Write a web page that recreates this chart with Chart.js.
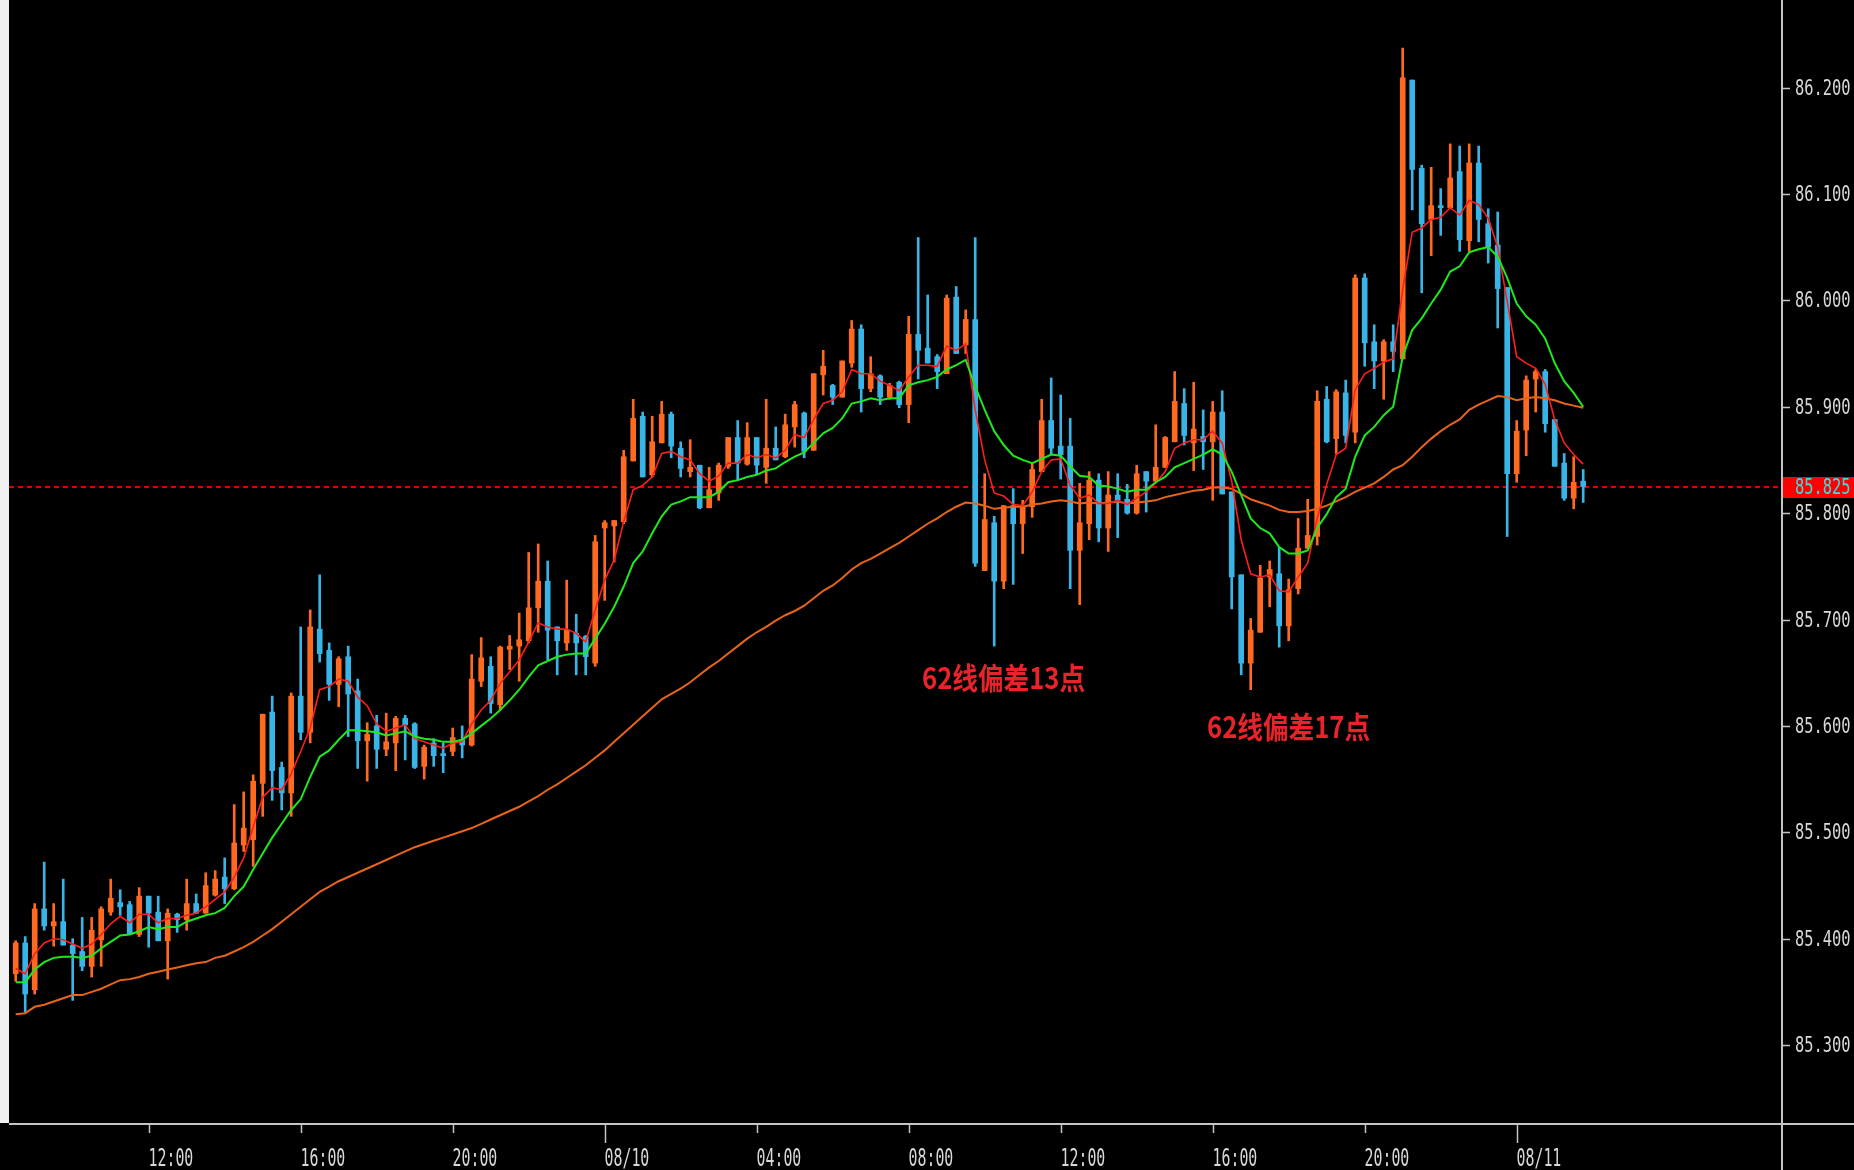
<!DOCTYPE html>
<html><head><meta charset="utf-8">
<script src="https://cdn.jsdelivr.net/npm/chart.js@4.4.1/dist/chart.umd.min.js"></script>
<style>html,body{margin:0;padding:0;background:#000;overflow:hidden}#wrap{width:1854px;height:1170px}</style>
</head><body><div id="wrap"><canvas id="c" width="1854" height="1170"></canvas></div>
<script>
// 15-minute candles, 08:30 (08/09) to 01:45 (08/11)
const opens = [
85.367,85.396,85.352,85.428,85.412,85.416,85.394,85.388,85.374,85.399,
85.425,85.434,85.432,85.404,85.440,85.425,85.398,85.423,85.418,85.433,
85.424,85.441,85.458,85.447,85.488,85.493,85.546,85.613,85.561,85.537,
85.628,85.594,85.691,85.671,85.639,85.665,85.633,85.586,85.600,85.578,
85.584,85.607,85.602,85.562,85.584,85.574,85.576,85.587,85.582,85.642,
85.656,85.620,85.672,85.675,85.680,85.711,85.736,85.693,85.678,85.687,
85.684,85.659,85.786,85.788,85.792,85.849,85.891,85.836,85.866,85.893,
85.861,85.839,85.845,85.805,85.819,85.844,85.871,85.846,85.871,85.843,
85.861,85.853,85.881,85.894,85.859,85.930,85.920,85.909,85.941,85.973,
85.917,85.929,85.909,85.923,85.902,85.968,85.955,85.947,85.931,86.003,
85.958,85.982,85.746,85.791,85.736,85.807,85.790,85.806,85.839,85.887,
85.863,85.863,85.765,85.790,85.831,85.786,85.817,85.813,85.800,85.839,
85.830,85.843,85.867,85.903,85.866,85.872,85.867,85.895,85.820,85.742,
85.659,85.688,85.740,85.743,85.694,85.729,85.767,85.778,85.907,85.870,
85.913,85.876,86.021,85.961,85.943,85.961,85.945,86.207,86.124,86.076,
86.089,86.087,86.121,86.056,86.129,86.072,86.052,86.012,85.837,85.878,
85.926,85.933,85.888,85.847,85.814,85.830];
const highs = [
85.398,85.402,85.433,85.472,85.433,85.456,85.400,85.420,85.420,85.430,
85.456,85.446,85.435,85.448,85.440,85.440,85.428,85.424,85.456,85.442,
85.462,85.464,85.476,85.526,85.538,85.554,85.611,85.628,85.566,85.631,
85.693,85.709,85.742,85.678,85.665,85.675,85.644,85.603,85.610,85.612,
85.609,85.610,85.603,85.582,85.588,85.584,85.598,85.600,85.667,85.683,
85.665,85.675,85.685,85.706,85.763,85.771,85.755,85.693,85.737,85.705,
85.685,85.779,85.793,85.793,85.859,85.907,85.895,85.891,85.905,85.895,
85.867,85.869,85.845,85.843,85.847,85.871,85.887,85.885,85.871,85.907,
85.881,85.893,85.905,85.895,85.931,85.953,85.921,85.943,85.981,85.977,
85.947,85.930,85.922,85.924,85.985,86.059,86.005,85.949,86.005,86.013,
85.991,86.059,85.837,85.797,85.807,85.823,85.812,85.847,85.907,85.927,
85.911,85.889,85.828,85.839,85.837,85.839,85.837,85.827,85.845,85.839,
85.883,85.872,85.933,85.917,85.923,85.897,85.905,85.915,85.820,85.742,
85.701,85.751,85.755,85.768,85.738,85.795,85.813,85.915,85.919,85.916,
85.925,86.024,86.025,85.977,85.963,85.977,86.237,86.207,86.127,86.125,
86.105,86.147,86.145,86.147,86.145,86.086,86.083,86.012,85.887,85.929,
85.935,85.935,85.888,85.856,85.853,85.841];
const lows = [
85.360,85.331,85.348,85.408,85.393,85.394,85.342,85.370,85.364,85.374,
85.422,85.422,85.404,85.402,85.392,85.398,85.362,85.406,85.408,85.424,
85.424,85.440,85.433,85.446,85.482,85.468,85.515,85.530,85.521,85.515,
85.587,85.584,85.660,85.624,85.618,85.590,85.560,85.548,85.560,85.572,
85.558,85.568,85.560,85.550,85.562,85.556,85.572,85.570,85.581,85.637,
85.612,85.615,85.653,85.642,85.678,85.688,85.662,85.648,85.671,85.648,
85.648,85.656,85.718,85.754,85.790,85.849,85.834,85.834,85.866,85.852,
85.834,85.834,85.804,85.805,85.812,85.842,85.831,85.845,85.837,85.828,
85.850,85.852,85.862,85.852,85.859,85.911,85.902,85.909,85.937,85.895,
85.914,85.902,85.907,85.899,85.885,85.926,85.941,85.917,85.931,85.950,
85.950,85.750,85.746,85.675,85.729,85.733,85.762,85.796,85.839,85.855,
85.832,85.729,85.714,85.775,85.773,85.764,85.777,85.799,85.799,85.801,
85.830,85.843,85.867,85.864,85.840,85.841,85.812,85.818,85.710,85.648,
85.634,85.688,85.712,85.674,85.680,85.724,85.767,85.770,85.866,85.856,
85.866,85.866,85.938,85.917,85.907,85.933,85.945,86.085,86.007,86.042,
86.061,86.086,86.046,86.046,86.055,86.035,85.974,85.778,85.829,85.854,
85.895,85.876,85.844,85.812,85.804,85.810];
const closes = [
85.396,85.348,85.428,85.412,85.416,85.394,85.386,85.374,85.408,85.428,
85.438,85.430,85.404,85.440,85.424,85.398,85.424,85.418,85.433,85.424,
85.450,85.456,85.447,85.490,85.504,85.548,85.611,85.558,85.537,85.628,
85.594,85.693,85.668,85.639,85.663,85.630,85.586,85.592,85.578,85.585,
85.607,85.601,85.561,85.580,85.572,85.572,85.589,85.582,85.644,85.664,
85.621,85.674,85.675,85.681,85.711,85.736,85.690,85.680,85.690,85.678,
85.665,85.773,85.791,85.793,85.853,85.889,85.834,85.867,85.893,85.863,
85.842,85.843,85.805,85.822,85.845,85.871,85.847,85.871,85.845,85.861,
85.850,85.883,85.902,85.858,85.931,85.938,85.909,85.943,85.973,85.917,
85.931,85.909,85.920,85.902,85.968,85.953,85.941,85.933,86.002,85.950,
85.982,85.753,85.794,85.736,85.807,85.790,85.806,85.841,85.887,85.861,
85.855,85.765,85.791,85.831,85.786,85.817,85.812,85.800,85.837,85.830,
85.843,85.871,85.905,85.873,85.879,85.867,85.895,85.818,85.740,85.659,
85.690,85.739,85.747,85.694,85.728,85.767,85.779,85.905,85.867,85.914,
85.873,86.021,85.960,85.943,85.961,85.952,86.209,86.123,86.072,86.089,
86.087,86.115,86.057,86.129,86.076,86.050,86.011,85.837,85.877,85.925,
85.933,85.884,85.844,85.814,85.829,85.825];
// moving averages
const maRed = [
85.372,85.367,85.386,85.396,85.400,85.399,85.395,85.391,85.395,85.404,
85.414,85.421,85.415,85.423,85.423,85.415,85.419,85.419,85.422,85.424,
85.430,85.437,85.444,85.458,85.476,85.505,85.533,85.542,85.540,85.555,
85.576,85.598,85.634,85.637,85.644,85.642,85.627,85.619,85.602,85.595,
85.598,85.601,85.588,85.585,85.582,85.579,85.584,85.585,85.602,85.615,
85.624,85.640,85.651,85.662,85.679,85.697,85.693,85.691,85.691,85.687,
85.679,85.709,85.737,85.756,85.792,85.822,85.826,85.834,85.856,85.858,
85.853,85.850,85.837,85.830,85.835,85.847,85.847,85.855,85.852,85.855,
85.852,85.859,85.874,85.871,85.888,85.903,85.906,85.914,85.935,85.931,
85.931,85.924,85.920,85.915,85.928,85.939,85.939,85.938,85.957,85.953,
85.959,85.897,85.850,85.819,85.816,85.808,85.807,85.820,85.839,85.850,
85.851,85.826,85.814,85.817,85.809,85.809,85.812,85.808,85.814,85.820,
85.828,85.839,85.861,85.866,85.869,85.869,85.877,85.866,85.830,85.775,
85.743,85.740,85.742,85.727,85.726,85.740,85.753,85.795,85.827,85.855,
85.861,85.916,85.931,85.936,85.942,85.945,86.010,86.064,86.068,86.076,
86.078,86.087,86.080,86.094,86.090,86.077,86.050,85.999,85.947,85.941,
85.936,85.921,85.888,85.866,85.855,85.846];
const maGreen = [
85.359,85.359,85.371,85.378,85.382,85.383,85.383,85.382,85.384,85.391,
85.397,85.403,85.404,85.407,85.411,85.409,85.411,85.411,85.416,85.419,
85.422,85.424,85.429,85.440,85.449,85.465,85.480,85.495,85.508,85.521,
85.531,85.552,85.571,85.577,85.587,85.596,85.596,85.595,85.594,85.591,
85.593,85.595,85.590,85.588,85.587,85.585,85.585,85.587,85.593,85.600,
85.607,85.615,85.624,85.634,85.646,85.657,85.661,85.665,85.667,85.668,
85.668,85.682,85.696,85.712,85.731,85.753,85.764,85.781,85.797,85.808,
85.811,85.815,85.815,85.815,85.820,85.829,85.831,85.834,85.836,85.840,
85.842,85.848,85.853,85.857,85.866,85.875,85.880,85.889,85.903,85.905,
85.908,85.906,85.908,85.908,85.920,85.923,85.925,85.928,85.935,85.939,
85.944,85.919,85.897,85.877,85.864,85.854,85.850,85.847,85.851,85.855,
85.854,85.844,85.835,85.834,85.826,85.825,85.823,85.820,85.822,85.822,
85.829,85.834,85.843,85.847,85.851,85.855,85.860,85.855,85.839,85.817,
85.795,85.786,85.781,85.768,85.762,85.762,85.765,85.786,85.799,85.815,
85.823,85.853,85.873,85.881,85.892,85.900,85.947,85.972,85.983,85.997,
86.010,86.027,86.032,86.045,86.048,86.050,86.041,86.021,85.997,85.985,
85.977,85.964,85.941,85.924,85.913,85.900];
const ma62 = [
85.329,85.330,85.336,85.338,85.341,85.344,85.347,85.347,85.350,85.353,
85.357,85.361,85.362,85.364,85.367,85.369,85.371,85.373,85.375,85.377,
85.378,85.382,85.384,85.388,85.392,85.397,85.403,85.409,85.416,85.423,
85.430,85.437,85.444,85.449,85.454,85.458,85.462,85.466,85.470,85.474,
85.478,85.482,85.486,85.489,85.492,85.495,85.498,85.501,85.504,85.508,
85.512,85.516,85.520,85.524,85.529,85.534,85.540,85.545,85.551,85.557,
85.563,85.570,85.577,85.585,85.593,85.601,85.609,85.617,85.625,85.630,
85.635,85.641,85.648,85.655,85.661,85.668,85.675,85.682,85.688,85.693,
85.699,85.704,85.708,85.713,85.720,85.727,85.732,85.739,85.747,85.753,
85.757,85.762,85.767,85.772,85.778,85.784,85.790,85.795,85.801,85.806,
85.810,85.809,85.807,85.804,85.805,85.806,85.806,85.808,85.809,85.811,
85.812,85.811,85.809,85.810,85.809,85.810,85.811,85.809,85.810,85.811,
85.812,85.815,85.817,85.819,85.821,85.822,85.824,85.824,85.823,85.818,
85.813,85.810,85.807,85.803,85.801,85.801,85.802,85.804,85.807,85.811,
85.815,85.820,85.824,85.828,85.834,85.841,85.845,85.853,85.862,85.870,
85.877,85.883,85.888,85.897,85.902,85.906,85.910,85.909,85.906,85.908,
85.909,85.908,85.906,85.903,85.901,85.899];

const priceTicks = [85.3, 85.4, 85.5, 85.6, 85.7, 85.8, 85.9, 86.0, 86.1, 86.2];
const timeTickIdx = [14, 30, 46, 62, 78, 94, 110, 126, 142, 158];
const timeTickLabels = ['12:00','16:00','20:00','08/10','04:00','08:00','12:00','16:00','20:00','08/11'];
const timeTickIsDate = [false,false,false,true,false,false,false,false,false,true];
const currentPrice = 85.825;
const noteTexts = ['62线偏差13点', '62线偏差17点'];
const noteIdx = [95.4, 125.4];
const notePrice = [85.645, 85.599];

const UP = '#ff6a20', DOWN = '#38b4e6';
const idx = opens.map((_, i) => i);
const candleColors = idx.map(i => closes[i] >= opens[i] ? UP : DOWN);

function cText(ctx, txt, x, y, sx, font, color, baseline) {
  ctx.save();
  ctx.font = font; ctx.fillStyle = color; ctx.textBaseline = baseline; ctx.textAlign = 'left';
  ctx.translate(x, y); ctx.scale(sx, 1); ctx.fillText(txt, 0, 0);
  ctx.restore();
}

const decor = {
  id: 'decor',
  beforeDraw(chart) {
    const ctx = chart.ctx, a = chart.chartArea;
    ctx.save();
    ctx.fillStyle = '#000'; ctx.fillRect(0, 0, chart.width, chart.height);
    ctx.fillStyle = '#f0f0f0'; ctx.fillRect(0, 0, a.left, a.bottom);
    ctx.restore();
  },
  beforeDatasetsDraw(chart) {
    const ctx = chart.ctx, a = chart.chartArea, y = Math.round(chart.scales.y.getPixelForValue(currentPrice));
    ctx.save();
    ctx.strokeStyle = '#e00000'; ctx.lineWidth = 2; ctx.setLineDash([5, 4]);
    ctx.beginPath(); ctx.moveTo(a.left, y); ctx.lineTo(a.right, y); ctx.stroke();
    ctx.restore();
  },
  afterDraw(chart) {
    const ctx = chart.ctx, a = chart.chartArea, xs = chart.scales.x, ys = chart.scales.y;
    const axisCol = '#c4c4c4';
    const lblFont = '22px "DejaVu Sans Mono"';
    ctx.save();
    ctx.strokeStyle = axisCol; ctx.lineWidth = 2;
    ctx.beginPath(); ctx.moveTo(a.right, 0); ctx.lineTo(a.right, chart.height); ctx.stroke();
    ctx.beginPath(); ctx.moveTo(a.left, a.bottom + 1); ctx.lineTo(chart.width, a.bottom + 1); ctx.stroke();
    // price axis
    ctx.lineWidth = 1.5;
    priceTicks.forEach(v => {
      const y = Math.round(ys.getPixelForValue(v)) + 0.5;
      ctx.beginPath(); ctx.moveTo(a.right, y); ctx.lineTo(a.right + 8, y); ctx.stroke();
      cText(ctx, v.toFixed(3), a.right + 13, y + 1, 0.7, lblFont, '#d8d8d8', 'middle');
    });
    // current price box
    const py = Math.round(ys.getPixelForValue(currentPrice));
    ctx.fillStyle = '#ff0000';
    ctx.fillRect(a.right + 1, py - 10, chart.width - a.right, 21);
    cText(ctx, currentPrice.toFixed(3), a.right + 13, py + 1, 0.7, lblFont, '#33e0e0', 'middle');
    // time axis
    timeTickIdx.forEach((v, k) => {
      const x = Math.round(xs.getPixelForValue(v)) + 0.5;
      const len = timeTickIsDate[k] ? 18 : 8;
      ctx.strokeStyle = axisCol; ctx.lineWidth = 1.5;
      ctx.beginPath(); ctx.moveTo(x, a.bottom + 2); ctx.lineTo(x, a.bottom + 2 + len); ctx.stroke();
      cText(ctx, timeTickLabels[k], x - 1, 1166, 0.62, '24px "DejaVu Sans Mono"', '#d8d8d8', 'alphabetic');
    });
    // notes
    noteTexts.forEach((t, k) => {
      cText(ctx, t, xs.getPixelForValue(noteIdx[k]), ys.getPixelForValue(notePrice[k]), 0.855,
        'bold 30px "Noto Sans CJK SC"', '#e8232a', 'middle');
    });
    ctx.restore();
  }
};

new Chart(document.getElementById('c'), {
  type: 'bar',
  data: {
    datasets: [
      { type: 'line', label: 'MA62', data: idx.map(i => ({x: i, y: ma62[i]})), borderColor: '#e8641a', borderWidth: 2, pointRadius: 0, tension: 0, order: 1 },
      { type: 'line', label: 'MA21', data: idx.map(i => ({x: i, y: maGreen[i]})), borderColor: '#1ee81e', borderWidth: 2, pointRadius: 0, tension: 0, order: 0 },
      { type: 'line', label: 'MA5', data: idx.map(i => ({x: i, y: maRed[i]})), borderColor: '#ff1e1e', borderWidth: 1.6, pointRadius: 0, tension: 0, order: 0 },
      { type: 'bar', label: 'body', data: idx.map(i => ({x: i, y: [opens[i], closes[i]]})), backgroundColor: candleColors, barThickness: 5, grouped: false, minBarLength: 2, borderWidth: 0, order: 2 },
      { type: 'bar', label: 'wick', data: idx.map(i => ({x: i, y: [lows[i], highs[i]]})), backgroundColor: candleColors, barThickness: 2, grouped: false, borderWidth: 0, order: 3 }
    ]
  },
  options: {
    responsive: false, animation: false, devicePixelRatio: 1,
    layout: { padding: { left: 9, right: 72, top: 0, bottom: 47 } },
    plugins: { legend: { display: false }, tooltip: { enabled: false } },
    scales: {
      x: { type: 'linear', min: -0.705, max: 185.927, offset: false, display: false, grid: { display: false } },
      y: { type: 'linear', min: 85.22679, max: 86.28224, display: false, grid: { display: false } }
    }
  },
  plugins: [decor]
});
</script>
</body></html>
